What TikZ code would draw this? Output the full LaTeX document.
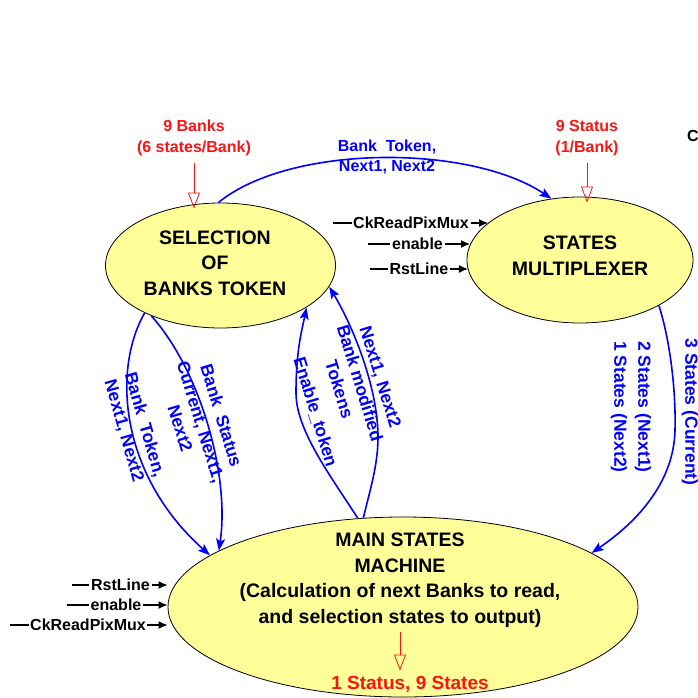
\documentclass[tikz,border=0pt]{standalone}
\usepackage{fontspec}
\setmainfont{Liberation Sans}
\usetikzlibrary{arrows.meta,shapes.geometric}
\definecolor{ellfill}{RGB}{255,255,153}
\definecolor{bl}{RGB}{0,0,255}
\definecolor{rd}{RGB}{250,20,20}
\begin{document}
\begin{tikzpicture}[x=1pt,y=-1pt,
  ellbox/.style={ellipse,draw=black,line width=0.8pt,fill=ellfill,inner sep=0pt},
  elltext/.style={align=center,inner sep=0pt,font=\bfseries\fontsize{19.5}{25.5}\selectfont},
  redlab/.style={align=center,inner sep=1pt,text=rd,font=\bfseries\fontsize{16}{21}\selectfont},
  redarr/.style={draw=rd,line width=0.8pt,-{Triangle[open,length=16pt,width=12pt]}},
  bluelab/.style={align=center,inner sep=0pt,text=bl,font=\bfseries\fontsize{17.5}{21.5}\selectfont},
  toplab/.style={align=center,inner sep=0pt,text=bl,font=\bfseries\fontsize{16}{20}\selectfont},
  bluearr/.style={draw=bl,line width=1.6pt,-{Stealth[length=12pt,width=9pt,inset=2.5pt]}},
  inlab/.style={inner sep=1.5pt,font=\bfseries\fontsize{16}{19}\selectfont},
  inarr/.style={draw=black,line width=1.3pt,-{Latex[length=9pt,width=8pt]}},
  inline/.style={draw=black,line width=1.3pt}
]
\useasboundingbox (0,0) rectangle (697,698);

% ellipses
\node[ellbox,minimum width=230pt,minimum height=125pt] (sel) at (220.5,265.5) {};
\node[ellbox,minimum width=226pt,minimum height=126pt] (mux) at (580,260) {};
\node[ellbox,minimum width=470pt,minimum height=180pt] (main) at (403,607) {};

\node[elltext] (seltext) at (215,263) {SELECTION\\OF\\BANKS TOKEN};
\node[elltext] (muxtext) at (580,256) {STATES\\MULTIPLEXER};
\node[elltext] (maintext) at (400,580) {MAIN STATES\\MACHINE\\(Calculation of next Banks to read,\\and selection states to output)};

% red labels and arrows
\node[redlab] (banks) at (194,138) {9 Banks\\(6 states/Bank)};
\node[redlab] (status) at (587,138) {9 Status\\(1/Bank)};
\node[redlab,font=\bfseries\fontsize{19}{22}\selectfont,anchor=base] (outst) at (410,689) {1 Status, 9 States};
\draw[redarr] ([yshift=-6pt]banks.south) -- ([yshift=-6pt]banks.south |- sel.north);
\draw[redarr] ([yshift=-6pt]status.south) -- ([yshift=-6pt]status.south |- mux.north);
\draw[redarr] ([yshift=-5pt]maintext.south) -- ([yshift=4pt]maintext.south |- outst.north);

% top-right clipped text
\node[inlab,anchor=west,inner sep=0pt] (cut) at (687,136) {C};

% inputs to multiplexer
\coordinate (ck1s) at (333,223);
\coordinate (en1s) at (368,244);
\coordinate (rs1s) at (370,269);
\node[inlab] (ck1) at (411,223) {CkReadPixMux};
\node[inlab] (en1) at (417.5,244) {enable};
\node[inlab] (rs1) at (419,269) {RstLine};
\draw[inline] (ck1s) -- (ck1.west);
\draw[inline] (en1s) -- (en1.west);
\draw[inline] (rs1s) -- (rs1.west);
\draw[inarr] (ck1.east) -- (ck1.east -| mux.158);
\draw[inarr] (en1.east) -- (en1.east -| mux.172);
\draw[inarr] (rs1.east) -- (rs1.east -| mux.185);

% inputs to main machine
\coordinate (rs2s) at (72,585);
\coordinate (en2s) at (67,605);
\coordinate (ck2s) at (10,625);
\node[inlab] (rs2) at (120.5,585) {RstLine};
\node[inlab] (en2) at (116,605) {enable};
\node[inlab] (ck2) at (88,625) {CkReadPixMux};
\draw[inline] (rs2s) -- (rs2.west);
\draw[inline] (en2s) -- (en2.west);
\draw[inline] (ck2s) -- (ck2.west);
\draw[inarr] (rs2.east) -- (rs2.east -| main.west);
\draw[inarr] (en2.east) -- (en2.east -| main.west);
\draw[inarr] (ck2.east) -- (ck2.east -| main.west);

% blue connectors
\draw[bluearr] (sel.92) .. controls (290,144) and (470,144) .. (mux.115);
\node[toplab] (toplbl) at (387,157) {Bank\ \ Token,\\Next1, Next2};

\draw[bluearr] (sel.212) .. controls (112,370) and (120,475) .. (main.165);
\draw[bluearr] (sel.216) .. controls (200,370) and (230,475) .. (main.163.5);
\node[bluelab,rotate=-74] (lbl1) at (134,428) {Bank\ \ Token,\\Next1, Next2};
\node[bluelab,rotate=-73] (lbl2) at (201,422) {Bank\ \ Status\\Current, Next1,\\Next2};

\draw[bluearr] (main.117) .. controls (330,475) and (296,430) .. (296,393) .. controls (296,350) and (302,330) .. (sel.-26);
\draw[bluearr] (main.114) .. controls (370,490) and (378,465) .. (378,437) .. controls (378,390) and (355,330) .. (sel.-11);
\node[bluelab,rotate=-73] (lbl3) at (315,412) {Enable\_token};
\node[bluelab,rotate=-73] (lbl4) at (360,383) {Next1, Next2\\Bank modified\\Tokens};

\draw[bluearr] (mux.-30) .. controls (670,340) and (676,390) .. (675,430) .. controls (674,480) and (640,520) .. (main.16);
\node[bluelab,rotate=-90,font=\bfseries\fontsize{17.5}{24}\selectfont] (lbl5) at (631,407) {2 States (Next1)\\1 States (Next2)};
\node[bluelab,rotate=-90] (lbl6) at (690,412) {3 States (Current)};
\end{tikzpicture}
\end{document}
